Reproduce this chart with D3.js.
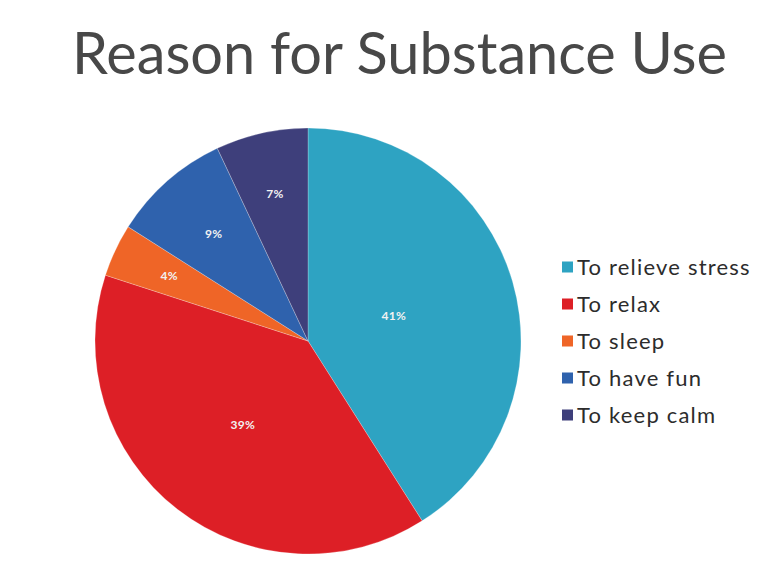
<!DOCTYPE html>
<html>
<head>
<meta charset="utf-8">
<script src="https://cdn.jsdelivr.net/npm/d3@7"></script>
<style>
  html, body { margin: 0; padding: 0; background: #ffffff; }
  svg { display: block; }
</style>
</head>
<body>
<svg id="chart" width="757" height="585"></svg>
<script>
// Survey answers: share of respondents per reason (percent)
const reasons = ["To relieve stress", "To relax", "To sleep", "To have fun", "To keep calm"];
const shares = [41, 39, 4, 9, 7];
const sliceColors = ["#2ea3c2", "#dd1f26", "#ef6527", "#2f62ad", "#3e3f7b"];

// Layout
const W = 757, H = 585;
const cx = 308, cy = 341, R = 213;
// distance of each percentage label from the centre, as a share of the radius
const labelDist = [0.42, 0.5, 0.72, 0.67, 0.71];

const svg = d3.select("#chart");

// Title
const title = svg.append("text")
  .attr("x", 72)
  .attr("y", 74)
  .attr("fill", "#484848")
  .style("font-family", "Lato, 'Open Sans', sans-serif")
  .style("font-size", "54px")
  .text("Reason for Substance Use");
// fit the title to its intended width
const targetW = 655;
const w0 = title.node().getComputedTextLength();
title.style("font-size", (54 * targetW / w0).toFixed(2) + "px");

const color = d3.scaleOrdinal().domain(reasons).range(sliceColors);

const pie = d3.pie().sort(null).value(d => d.value);
const data = reasons.map((r, i) => ({ name: r, value: shares[i], idx: i }));
const arcs = pie(data);

const arc = d3.arc().innerRadius(0).outerRadius(R);

const g = svg.append("g").attr("transform", `translate(${cx},${cy})`);

g.selectAll("path.slice")
  .data(arcs)
  .join("path")
  .attr("class", "slice")
  .attr("d", arc)
  .attr("fill", d => color(d.data.name))
  .attr("stroke", "rgba(255,255,255,0.3)")
  .attr("stroke-width", 0.8);

// Percentage labels
g.selectAll("text.pct")
  .data(arcs)
  .join("text")
  .attr("class", "pct")
  .attr("transform", d => {
    const r = R * labelDist[d.data.idx];
    const a = (d.startAngle + d.endAngle) / 2;
    return `translate(${r * Math.sin(a)},${-r * Math.cos(a)})`;
  })
  .attr("text-anchor", "middle")
  .attr("dy", "0.35em")
  .attr("fill", "#f2f2f2")
  .style("font-family", "Lato, 'Open Sans', sans-serif")
  .style("font-weight", "700")
  .style("font-size", "12px")
  .style("letter-spacing", "0.3px")
  .text(d => d.data.value + "%");

// Legend
const legendY = d3.scalePoint().domain(reasons).range([267, 415]);
const legend = svg.append("g");
const item = legend.selectAll("g.item")
  .data(reasons)
  .join("g")
  .attr("class", "item")
  .attr("transform", d => `translate(562,${legendY(d)})`);

item.append("rect")
  .attr("x", 0)
  .attr("y", -5.5)
  .attr("width", 11)
  .attr("height", 11)
  .attr("fill", d => color(d));

item.append("text")
  .attr("x", 15)
  .attr("y", 0)
  .attr("dy", "0.36em")
  .attr("fill", "#2c2c2c")
  .style("font-family", "Lato, 'Open Sans', sans-serif")
  .style("font-size", "22px")
  .style("letter-spacing", "1.2px")
  .text(d => d);
</script>
</body>
</html>
